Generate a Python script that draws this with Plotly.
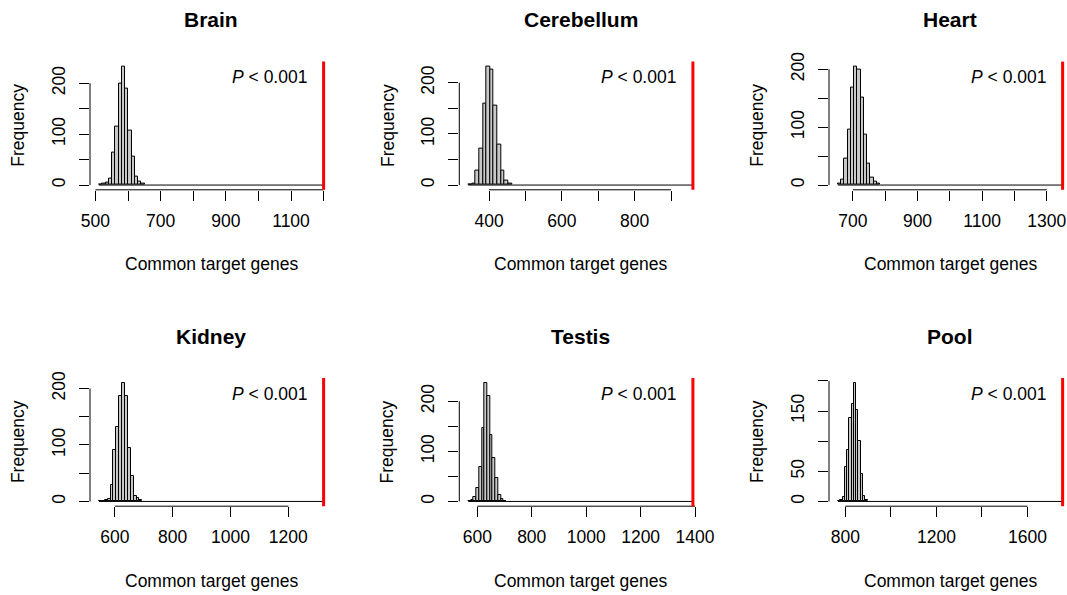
import plotly.graph_objects as go

W, H = 1067, 595

# ---------------- data ----------------
titles = ["Brain", "Cerebellum", "Heart", "Kidney", "Testis", "Pool"]
bin_width = 10
first_break = [511, 343, 654, 545, 567, 768]
observed = [1200, 960, 1349, 1322, 1392, 1754]

brain_counts = [1, 2, 5, 12, 64, 114, 200, 233, 190, 106, 56, 16, 6, 2]
cerebellum_counts = [1, 2, 29, 71, 160, 232, 226, 156, 79, 29, 9, 3]
heart_counts = [2, 9, 45, 95, 168, 205, 200, 151, 88, 37, 13, 6, 2]
kidney_counts = [1, 1, 2, 4, 29, 91, 131, 187, 210, 187, 94, 45, 10, 6, 2]
testis_counts = [1, 2, 8, 27, 68, 146, 237, 211, 132, 87, 47, 13, 5, 1]
pool_counts = [1, 3, 8, 57, 86, 138, 162, 197, 152, 100, 46, 9, 2]
all_counts = [brain_counts, cerebellum_counts, heart_counts,
              kidney_counts, testis_counts, pool_counts]

x_tickvals = [
    [500, 600, 700, 800, 900, 1000, 1100, 1200],
    [400, 500, 600, 700, 800, 900],
    [700, 800, 900, 1000, 1100, 1200, 1300],
    [600, 800, 1000, 1200],
    [600, 800, 1000, 1200, 1400],
    [800, 1000, 1200, 1400, 1600],
]
x_ticktext = [
    ["500", "", "700", "", "900", "", "1100", ""],
    ["400", "", "600", "", "800", ""],
    ["700", "", "900", "", "1100", "", "1300"],
    ["600", "800", "1000", "1200"],
    ["600", "800", "1000", "1200", "1400"],
    ["800", "", "1200", "", "1600"],
]
y_tickvals = [[0, 50, 100, 150, 200]] * 6
y_ticktext = [
    ["0", "", "100", "", "200"],
    ["0", "", "100", "", "200"],
    ["0", "", "100", "", "200"],
    ["0", "", "100", "", "200"],
    ["0", "", "100", "", "200"],
    ["0", "50", "", "150", ""],
]
xlabel = "Common target genes"
ylabel = "Frequency"
p_text = "<i>P</i> &lt; 0.001"

# ---------------- layout geometry (target pixels) ----------------
col_left = [90.0, 459.3, 829.0]
row_top = [61.6, 378.0]
pw, ph = 242.6, 128.2
FONT = "Liberation Sans, Arial, Helvetica, sans-serif"
FS = 17.5


def px2x(p):
    return p / W


def px2y(p):
    return 1 - p / H


fig = go.Figure()
annotations = []
shapes = []
layout_axes = {}

for i in range(6):
    r, c = divmod(i, 3)
    k = "" if i == 0 else str(i + 1)
    counts = all_counts[i]
    d0, obs = first_break[i], observed[i]
    edges = [d0 + j * bin_width for j in range(len(counts))]
    centers = [e + bin_width / 2 for e in edges]

    ext = 0.04 * (obs - d0)
    lo, hi = d0 - ext, obs + ext
    left = col_left[c]
    right = left + pw
    if right > W:
        hi = lo + (W - left) / pw * (hi - lo)
        right = W
    ymax = max(counts)
    ylo, yhi = -0.04 * ymax, 1.04 * ymax
    top = row_top[r]
    bottom = top + ph

    fig.add_trace(go.Bar(
        x=centers, y=counts, width=bin_width,
        marker=dict(color="#c8c8c8", line=dict(color="black", width=1)),
        xaxis="x" + k, yaxis="y" + k, showlegend=False,
    ))
    # zero-count bins -> baseline from first break to observed value
    fig.add_trace(go.Scatter(
        x=[d0, obs], y=[0, 0], mode="lines",
        line=dict(color="black", width=1),
        xaxis="x" + k, yaxis="y" + k, showlegend=False, hoverinfo="skip",
        cliponaxis=False,
    ))

    layout_axes["xaxis" + k] = dict(
        domain=[px2x(left), px2x(right)], range=[lo, hi],
        anchor="y" + k, showgrid=False, zeroline=False, showline=False,
        automargin=False,
        ticks="outside", ticklen=10, tickwidth=1, tickcolor="black",
        tickvals=x_tickvals[i], ticktext=x_ticktext[i],
        tickfont=dict(family=FONT, size=FS, color="black"),
        ticklabelstandoff=5,
    )
    layout_axes["yaxis" + k] = dict(
        domain=[px2y(bottom), px2y(top)], range=[ylo, yhi],
        anchor="x" + k, showgrid=False, zeroline=False, showline=False,
        automargin=False,
        ticks="outside", ticklen=10, tickwidth=1, tickcolor="black",
        tickvals=y_tickvals[i], ticktext=y_ticktext[i], tickangle=-90,
        tickfont=dict(family=FONT, size=FS, color="black"),
        ticklabelstandoff=7,
    )

    # axis lines spanning first to last tick (R style)
    shapes.append(dict(type="line", xref="x" + k, yref="y" + k + " domain",
                       x0=x_tickvals[i][0], x1=x_tickvals[i][-1], y0=0, y1=0,
                       line=dict(color="black", width=1)))
    yt = [v for v in y_tickvals[i] if v <= yhi]
    shapes.append(dict(type="line", xref="x" + k + " domain", yref="y" + k,
                       x0=0, x1=0, y0=yt[0], y1=yt[-1],
                       line=dict(color="black", width=1)))
    # observed value (red line)
    shapes.append(dict(type="line", xref="x" + k, yref="y" + k + " domain",
                       x0=obs, x1=obs, y0=0, y1=1,
                       line=dict(color="#FF0000", width=3)))

    cx = left + pw / 2
    annotations.append(dict(text="<b>" + titles[i] + "</b>", xref="paper", yref="paper",
                            x=px2x(cx), y=px2y(top - 41.6), showarrow=False,
                            xanchor="center", yanchor="middle",
                            font=dict(family=FONT, size=21, color="black")))
    annotations.append(dict(text=xlabel, xref="paper", yref="paper",
                            x=px2x(cx), y=px2y(bottom + 74.5), showarrow=False,
                            xanchor="center", yanchor="middle",
                            font=dict(family=FONT, size=FS, color="black")))
    annotations.append(dict(text=ylabel, xref="paper", yref="paper",
                            x=px2x(left - 72), y=px2y(top + ph / 2), showarrow=False,
                            textangle=-90, xanchor="center", yanchor="middle",
                            font=dict(family=FONT, size=FS, color="black")))
    annotations.append(dict(text=p_text, xref="paper", yref="paper",
                            x=px2x(left + pw - 24), y=px2y(top + 15.5), showarrow=False,
                            xanchor="right", yanchor="middle",
                            font=dict(family=FONT, size=FS, color="black")))

fig.update_layout(
    width=W, height=H, margin=dict(l=0, r=0, t=0, b=0, autoexpand=False),
    paper_bgcolor="white", plot_bgcolor="white",
    bargap=0, annotations=annotations, shapes=shapes,
    font=dict(family=FONT, size=FS, color="black"),
    **layout_axes,
)

fig.write_html(
    "out.html",
    config={"displayModeBar": False},
    post_script="document.body.style.margin='0';document.body.style.overflow='hidden';",
)
